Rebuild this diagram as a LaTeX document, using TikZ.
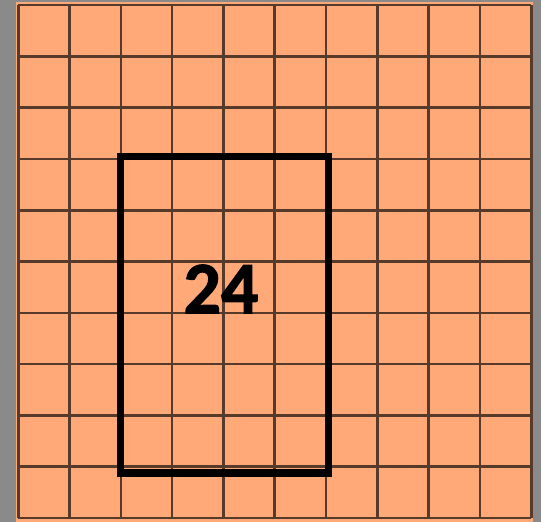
\documentclass[tikz,border=0pt]{standalone}
\usepackage{fontspec}
\newfontfamily\labelfont[FakeBold=1.6]{Carlito Bold}
\usepackage{tikz}
\usetikzlibrary{calc}
\definecolor{sidegray}{RGB}{138,138,138}
\definecolor{tileorange}{RGB}{255,168,120}
\definecolor{gridbrown}{RGB}{88,58,42}

\begin{document}
\begin{tikzpicture}[x=1pt,y=-1pt,line join=miter]
  \fill[sidegray] (0,0) rectangle (541,522);
  \useasboundingbox (0,0) rectangle (541,522);
  \fill[tileorange] (16,2) rectangle (533,522);
  \coordinate (G0) at (18.2,5);
  \foreach \k in {0,...,10}
    {\draw[gridbrown,line width=2.6pt] ($(G0)+(\k*51.3,0)$) -- ++(0,513);
     \draw[gridbrown,line width=2.6pt] ($(G0)+(0,\k*51.3)$) -- ++(513,0);}
  \coordinate (R0) at (120.7,156.7);
  \coordinate (R1) at (328.7,472.8);
  \draw[black,line width=7.5pt] (R0) rectangle (R1);
  \node[font=\labelfont\fontsize{74}{74}\selectfont,inner sep=0pt] (area) at (221,289) {24};
\end{tikzpicture}
\end{document}
